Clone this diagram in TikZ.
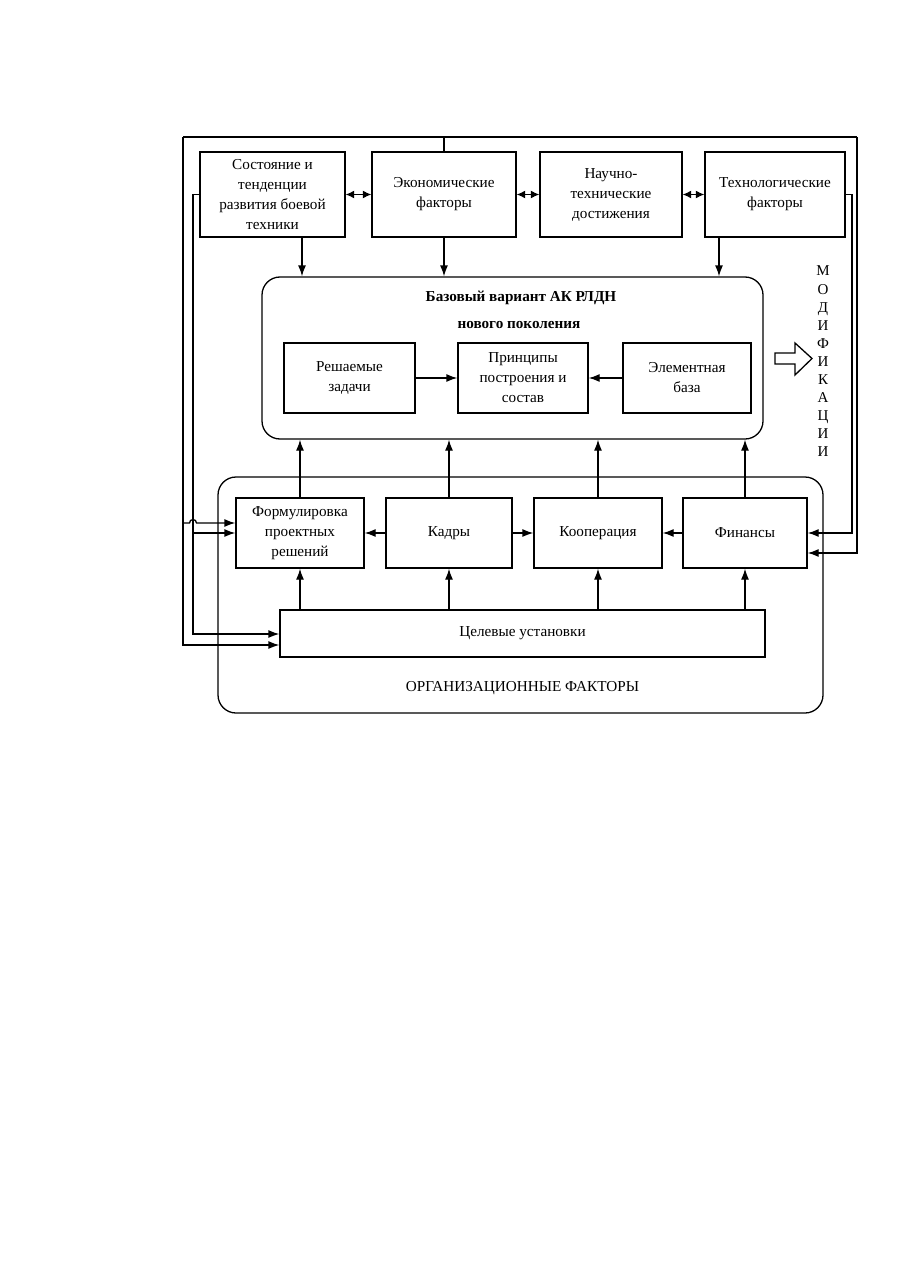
\documentclass[tikz,border=0pt]{standalone}
\usepackage{fontspec}
\setmainfont{Liberation Serif}
\usetikzlibrary{arrows.meta}
\begin{document}
\begin{tikzpicture}[x=1pt,y=-1pt, line width=1.3pt,
  box/.style={draw, rectangle, align=center, inner sep=2pt, font=\fontsize{15.2}{20}\selectfont},
  frame/.style={draw, rounded corners=18pt},
  arr/.style={-{Latex[length=11pt,width=8pt]}},
  darr/.style={{Latex[length=8.5pt,width=8pt]}-{Latex[length=8.5pt,width=8pt]}},
  txt/.style={align=center, inner sep=0pt, font=\fontsize{15.2}{20}\selectfont},
  ttl/.style={align=center, inner sep=0pt, font=\bfseries\fontsize{15.2}{20}\selectfont},
  vtxt/.style={align=center, inner sep=0pt, font=\fontsize{15}{18.1}\selectfont}]
\useasboundingbox (0,0) rectangle (900,1268);

% top row
\node[box, minimum width=145pt, minimum height=85pt] (s) at (272.5,194.5) {Состояние и\\тенденции\\развития боевой\\техники};
\node[box, minimum width=144pt, minimum height=85pt] (e) at (444,194.5) {Экономические\\факторы};
\node[box, minimum width=142pt, minimum height=85pt] (n) at (611,194.5) {Научно-\\технические\\достижения};
\node[box, minimum width=140pt, minimum height=85pt] (t) at (775,194.5) {Технологические\\факторы};

% base variant
\node[frame, minimum width=501pt, minimum height=162pt] (base) at (512.5,358) {};
\node[ttl] (bt1) at (521,298) {Базовый вариант АК РЛДН};
\node[ttl] (bt2) at (519,325) {нового поколения};
\node[box, minimum width=131pt, minimum height=70pt] (r) at (349.5,378) {Решаемые\\задачи};
\node[box, minimum width=130pt, minimum height=70pt] (p) at (523,378) {Принципы\\построения и\\состав};
\node[box, minimum width=128pt, minimum height=70pt] (el) at (687,378) {Элементная\\база};

% modifications
\draw (775,353) -- (795,353) -- (795,343) -- (812,358.5) -- (795,375) -- (795,364) -- (775,364) -- cycle;
\node[vtxt] (mod) at (823,361.5) {М\\О\\Д\\И\\Ф\\И\\К\\А\\Ц\\И\\И};

% organizational factors
\node[frame, minimum width=605pt, minimum height=236pt] (org) at (520.5,595) {};
\node[box, minimum width=128pt, minimum height=70pt] (f) at (300,533) {Формулировка\\проектных\\решений};
\node[box, minimum width=126pt, minimum height=70pt] (k) at (449,533) {Кадры};
\node[box, minimum width=128pt, minimum height=70pt] (ko) at (598,533) {Кооперация};
\node[box, minimum width=124pt, minimum height=70pt] (fi) at (745,533) {Финансы};
\node[box, minimum width=485pt, minimum height=47pt] (c) at (522.5,633.5) {Целевые установки};
\node[txt] (orgl) at (522.5,688) {ОРГАНИЗАЦИОННЫЕ ФАКТОРЫ};

% coordinates
\coordinate (xs) at (302,0);
\coordinate (xt) at (719,0);
\coordinate (TL) at (183,137);
\coordinate (TR) at (857,137);
\coordinate (BL) at (183,645);
\coordinate (BR) at (857,553);
\coordinate (IL) at (193,634);
\coordinate (IR) at (852,0);
\coordinate (HL) at (183,523);

% top row links
\draw[darr] (s.east) -- (e.west);
\draw[darr] (e.east) -- (n.west);
\draw[darr] (n.east) -- (t.west);
\draw[arr] (s.south -| xs) -- (base.north -| xs);
\draw[arr] (e.south) -- (base.north -| e.south);
\draw[arr] (t.south -| xt) -- (base.north -| xt);

% inner links
\draw[arr] (r.east) -- (p.west);
\draw[arr] (el.west) -- (p.east);

% middle row links
\draw[arr] (k.west) -- (f.east);
\draw[arr] (k.east) -- (ko.west);
\draw[arr] (fi.west) -- (ko.east);
\foreach \m in {f,k,ko,fi}{
  \draw[arr] (\m.north) -- (base.south -| \m.north);
  \draw[arr] (c.north -| \m.south) -- (\m.south);
}

% outer loop
\draw (TL) -- (TR);
\draw (e.north) -- (e.north |- TL);
\draw[arr] (TL) -- (BL) -- (BL -| c.west);
\draw[arr] (HL) -- ++(6.5,0) arc[start angle=180, end angle=360, radius=3.5] -- (HL -| f.west);
\draw[arr] (s.west) -- (s.west -| IL) -- (IL) -- (IL -| c.west);
\draw[arr] (IL |- f.west) -- (f.west);
\draw[arr] (t.east) -- (t.east -| IR) -- (IR |- fi.east) -- (fi.east);
\draw[arr] (TR) -- (BR) -- (BR -| fi.east);
\end{tikzpicture}
\end{document}
